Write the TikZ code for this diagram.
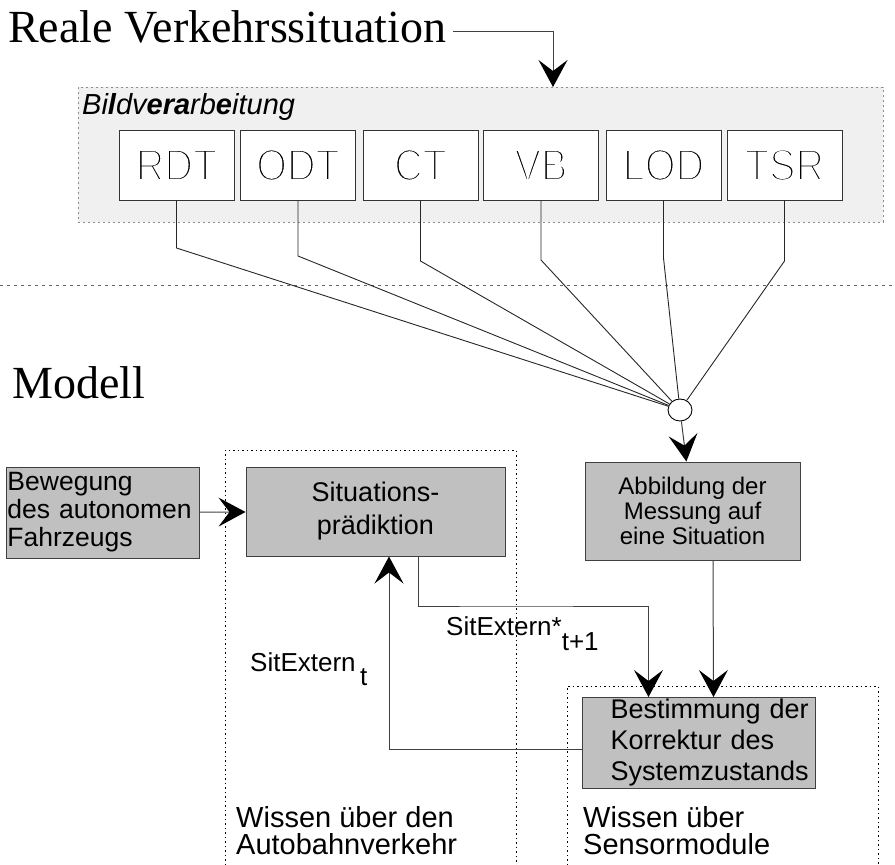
\documentclass[tikz,border=0pt]{standalone}
\usepackage{fontspec}
\setmainfont{Liberation Sans}
\newfontfamily\serifface{Liberation Serif}
\usetikzlibrary{arrows.meta,shapes.geometric}
\definecolor{procgray}{RGB}{192,192,192}
\definecolor{bvgray}{RGB}{240,240,240}
% thin strokes for the module names
\newcommand{\thinname}[1]{\scalebox{0.88}[1]{\special{pdf:literal direct 1 1 1 RG 2.6 w 2 Tr}#1\special{pdf:literal direct 0 Tr 0 0 0 RG}}}
\tikzset{
  flow/.style={draw=black!75, line width=1pt, -{Stealth[length=27pt,width=29pt,inset=11pt,black]}},
  wire/.style={draw=black!85, line width=0.9pt},
  modbox/.style={draw=black!80, fill=white, line width=1pt, minimum width=115pt, minimum height=70pt, inner sep=0pt, font=\fontsize{45}{45}\selectfont},
  procbox/.style={draw=black!75, fill=procgray, line width=1pt, inner sep=0pt},
  knowframe/.style={draw=black, line width=0.8pt, dash pattern=on 1.5pt off 3pt},
}

\begin{document}
\begin{tikzpicture}[x=1pt, y=-1pt]
			%%%%% START %%%%%
			\useasboundingbox (0,0) rectangle (895,865);
			
			\node[anchor=base west, inner sep=0pt, font=\serifface\fontsize{46}{46}\selectfont] (real) at (8,42) {Reale Verkehrssituation};
			\node[anchor=base west, inner sep=0pt, font=\serifface\fontsize{46}{46}\selectfont] (modell) at (12,398) {Modell};
			
			\node[draw=black!45, fill=bvgray, dash pattern=on 2pt off 3pt, line width=0.8pt, anchor=north west, minimum width=805pt, minimum height=135pt, inner sep=0pt] (bv) at (78,87) {};
			\node[anchor=base west, inner sep=0pt, font=\itshape\fontsize{29}{29}\selectfont] (bvlabel) at (82,114) {Bi\textbf{l}dv\textbf{era}rb\textbf{e}itung};
			\coordinate (bvin) at (553,87);
			\draw[flow] ([xshift=6pt, yshift=-5pt]real.east) -| (bvin);
			
			\draw[draw=black!60, dash pattern=on 3pt off 4pt, line width=0.9pt] (0,285) -- (895,285);
			
			\node[draw=black, ellipse, fill=white, minimum width=24pt, minimum height=22pt, inner sep=0pt, line width=0.9pt] (merge) at (680,410) {};
			
			\foreach \mname/\mx/\knee in {RDT/176.5/248, ODT/298/256, CT/420.5/261, VB/541/260, LOD/663.5/258, TSR/784.5/261}{
				\node[modbox] (\mname) at (\mx,165) {\thinname{\mname}};
				\coordinate (\mname-k) at (\mx,\knee);
				\draw[wire] (\mname.south) -- (\mname-k) -- (merge);
			}
			
			\draw[knowframe] (225,865) -- (225,450) -- (516,450) -- (516,865);
			\draw[knowframe] (567,865) -- (567,686) -- (878,686) -- (878,865);
			
			\node[procbox, minimum width=193pt, minimum height=91pt, text width=190pt, align=left, font=\fontsize{26.5}{28}\selectfont] (bew) at (102.5,512.5) {Bewegung\\des autonomen\\Fahrzeugs};
			\node[procbox, minimum width=259pt, minimum height=89pt, align=center, font=\fontsize{27}{33}\selectfont] (sit) at (375.5,511.5) {Situations-\\prädiktion};
			\node[procbox, minimum width=215pt, minimum height=98pt, align=center, font=\fontsize{24}{25}\selectfont] (abb) at (692.5,511) {Abbildung der\\Messung auf\\eine Situation};
			\node[procbox, anchor=north west, minimum height=91pt, text width=225pt, inner xsep=4pt, align=left, font=\fontsize{27}{31}\selectfont] (best) at (582,697) {\hspace*{24pt}Bestimmung der\\\hspace*{24pt}Korrektur des\\\hspace*{24pt}Systemzustands};
			
			\draw[flow] (bew) -- (sit);
			\draw[flow] (merge) -- (abb);
			\draw[flow] ([xshift=20.5pt]abb.south) -- ([xshift=14.5pt]best.north);
			\coordinate (predknee) at (500,606);
			\draw[flow] ([xshift=43pt]sit.south) |- (predknee) -| ([xshift=-50.5pt]best.north);
			\draw[flow] ([yshift=-6.5pt]best.west) -| ([xshift=13.5pt]sit.south);
			
			\node[anchor=base west, inner sep=0pt, font=\fontsize{26}{26}\selectfont] (sitnext) at (446,635) {SitExtern*\raisebox{-15pt}{t+1}};
			\node[anchor=base west, inner sep=0pt, font=\fontsize{26}{26}\selectfont] (sitnow) at (250,671) {SitExtern\,\raisebox{-14pt}{t}};
			
			\node[anchor=north west, inner sep=0pt, align=left, font=\fontsize{29}{27}\selectfont] (wissauto) at (236,806) {Wissen über den\\Autobahnverkehr};
			\node[anchor=north west, inner sep=0pt, align=left, font=\fontsize{29}{27}\selectfont] (wisssens) at (583,806) {Wissen über\\Sensormodule};
			
			%%%%% END %%%%%
		\end{tikzpicture}
\end{document}
